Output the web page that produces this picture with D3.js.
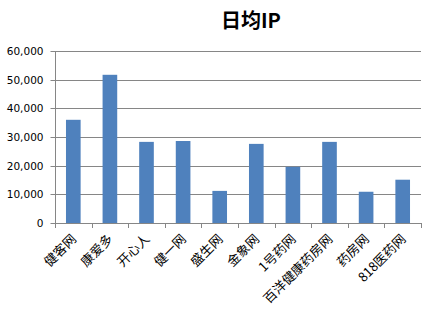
<!DOCTYPE html>
<html>
<head>
<meta charset="utf-8">
<script src="https://cdn.jsdelivr.net/npm/d3@7"></script>
<style>
  body { margin: 0; background: #fff; }
  svg { display: block; }
</style>
</head>
<body>
<svg id="chart" width="436" height="314"></svg>
<script>
// --- chart data ---
var categories = ['健客网', '康爱多', '开心人', '健一网', '盛生网', '金象网', '1号药网', '百洋健康药房网', '药房网', '818医药网'];
var visits     = [36000, 51700, 28300, 28600, 11200, 27600, 19600, 28300, 10900, 15100];
var yTicks     = [0, 10000, 20000, 30000, 40000, 50000, 60000];
var title      = '日均IP';

var svg = d3.select('#chart');
// plot area (note: "top" is reserved on window, so use plot* names)
var plotLeft = 55, plotRight = 421, plotTop = 51, plotBottom = 223;

var x = d3.scaleBand().domain(categories).range([plotLeft, plotRight]).paddingInner(0.6).paddingOuter(0.3);
var y = d3.scaleLinear().domain([0, 60000]).range([plotBottom, plotTop]);

// gridlines
svg.append('g')
  .selectAll('line')
  .data(yTicks.filter(function(d) { return d > 0; }))
  .enter().append('line')
  .attr('x1', plotLeft).attr('x2', plotRight)
  .attr('y1', function(d) { return Math.round(y(d)) + 0.5; })
  .attr('y2', function(d) { return Math.round(y(d)) + 0.5; })
  .attr('stroke', '#868686').attr('stroke-width', 1);

// bars
svg.append('g')
  .selectAll('rect')
  .data(visits)
  .enter().append('rect')
  .attr('x', function(d, i) { return x(categories[i]); })
  .attr('width', x.bandwidth())
  .attr('y', function(d) { return y(d); })
  .attr('height', function(d) { return plotBottom - y(d); })
  .attr('fill', '#4f81bd');

// y axis
var yAxis = d3.axisLeft(y).tickValues(yTicks).tickSize(5).tickPadding(7)
  .tickFormat(d3.format(','));
var yg = svg.append('g').attr('transform', 'translate(' + (plotLeft + 0.5) + ',0)').call(yAxis);
yg.selectAll('.tick').attr('transform', function(d) { return 'translate(0,' + (Math.round(y(d)) + 0.5) + ')'; });
yg.selectAll('path, line').attr('stroke', '#868686');
yg.select('.domain').attr('d', 'M0,' + plotTop + 'V' + plotBottom);
yg.selectAll('text')
  .attr('font-family', 'Verdana, DejaVu Sans, sans-serif')
  .attr('font-size', 10.5).attr('fill', '#000');

// x axis line and category boundary ticks
var step = (plotRight - plotLeft) / categories.length;
svg.append('line')
  .attr('x1', plotLeft).attr('x2', plotRight + 0.5)
  .attr('y1', plotBottom + 0.5).attr('y2', plotBottom + 0.5)
  .attr('stroke', '#868686');
svg.append('g')
  .selectAll('line')
  .data(d3.range(categories.length + 1))
  .enter().append('line')
  .attr('x1', function(i) { return Math.round(plotLeft + i * step) + 0.5; })
  .attr('x2', function(i) { return Math.round(plotLeft + i * step) + 0.5; })
  .attr('y1', plotBottom).attr('y2', plotBottom + 5)
  .attr('stroke', '#868686');

// x labels (rotated)
svg.append('g')
  .selectAll('text')
  .data(categories)
  .enter().append('text')
  .attr('transform', function(d) {
    var cx = x(d) + x.bandwidth() / 2 - 3;
    return 'translate(' + cx + ',' + (plotBottom + 10) + ') rotate(-45)';
  })
  .attr('text-anchor', 'end')
  .attr('dy', '0.75em')
  .attr('font-family', 'Noto Sans CJK SC, sans-serif')
  .attr('font-size', 13)
  .attr('fill', '#000')
  .text(function(d) { return d; });

// title
svg.append('text')
  .attr('x', 251).attr('y', 28)
  .attr('text-anchor', 'middle')
  .attr('font-family', 'Noto Sans CJK SC, sans-serif')
  .attr('font-weight', 'bold')
  .attr('font-size', 20)
  .text(title);
</script>
</body>
</html>
